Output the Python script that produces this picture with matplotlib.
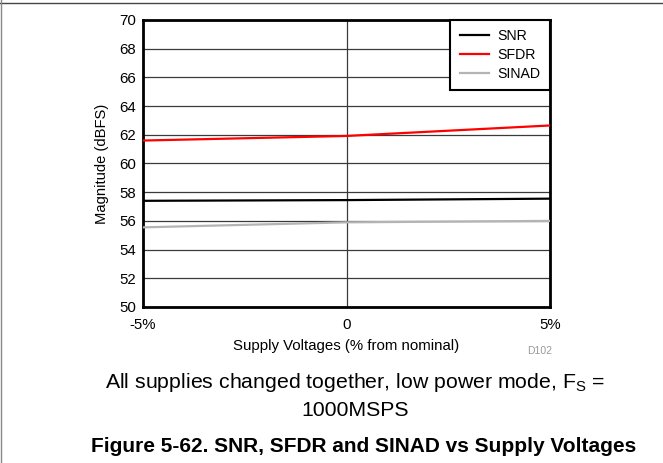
import matplotlib.pyplot as plt
from matplotlib.lines import Line2D

plt.rcParams['font.family'] = ['Liberation Sans', 'DejaVu Sans']

supply_pct = [-5, 0, 5]
snr = [57.4, 57.45, 57.55]
sfdr = [61.6, 61.92, 62.65]
sinad = [55.55, 55.9, 56.0]

x_ticks = [-5, 0, 5]
x_ticklabels = ['-5%', '0', '5%']
y_ticks = list(range(50, 71, 2))

fig = plt.figure(figsize=(6.63, 4.63), dpi=100)
ax = fig.add_axes([143 / 663, 1 - 307 / 463, (550 - 143) / 663, (307 - 20) / 463])

ax.plot(supply_pct, snr, color='black', lw=1.6, label='SNR', zorder=3)
ax.plot(supply_pct, sfdr, color='#ff0000', lw=1.6, label='SFDR', zorder=3)
ax.plot(supply_pct, sinad, color='#b4b4b4', lw=1.6, label='SINAD', zorder=3)

ax.set_xlim(-5, 5)
ax.set_ylim(50, 70)
ax.set_xticks(x_ticks)
ax.set_xticklabels(x_ticklabels)
ax.set_yticks(y_ticks)
ax.tick_params(length=0, labelsize=10.8)
ax.tick_params(axis='x', pad=8)
ax.tick_params(axis='y', pad=5)
ax.grid(True, color='#3a3a3a', lw=0.9)
for s in ax.spines.values():
    s.set_linewidth(2)
    s.set_color('black')

ax.set_xlabel('Supply Voltages (% from nominal)', fontsize=10.8, labelpad=5)
ax.set_ylabel('Magnitude (dBFS)', fontsize=10.6, labelpad=7)

leg = ax.legend(loc='upper right', fontsize=10.2, frameon=True, fancybox=False,
                borderaxespad=0, handlelength=2.1, handletextpad=0.6,
                labelspacing=0.35, borderpad=0.65)
leg.get_frame().set_edgecolor('black')
leg.get_frame().set_linewidth(1.5)
leg.get_frame().set_alpha(1)

fig.text(540 / 663, 1 - 351 / 463, 'D102', fontsize=7.5, color='#999999', ha='center', va='center')

fig.text(355 / 663, 1 - 382 / 463, 'All supplies changed together, low power mode, F$_\\mathregular{S}$ =',
         fontsize=15.3, ha='center', va='center')
fig.text(355 / 663, 1 - 411 / 463, '1000MSPS', fontsize=15.3, ha='center', va='center')
fig.text(364 / 663, 1 - 447 / 463, 'Figure 5-62. SNR, SFDR and SINAD vs Supply Voltages',
         fontsize=15, fontweight='bold', ha='center', va='center')

# page frame lines
fig.add_artist(Line2D([0, 1], [1 - 3 / 463, 1 - 3 / 463], color='#444444', lw=1, transform=fig.transFigure))
fig.add_artist(Line2D([1 / 663, 1 / 663], [0, 1], color='#888888', lw=1, transform=fig.transFigure))

fig.savefig('out.png', dpi=100)
